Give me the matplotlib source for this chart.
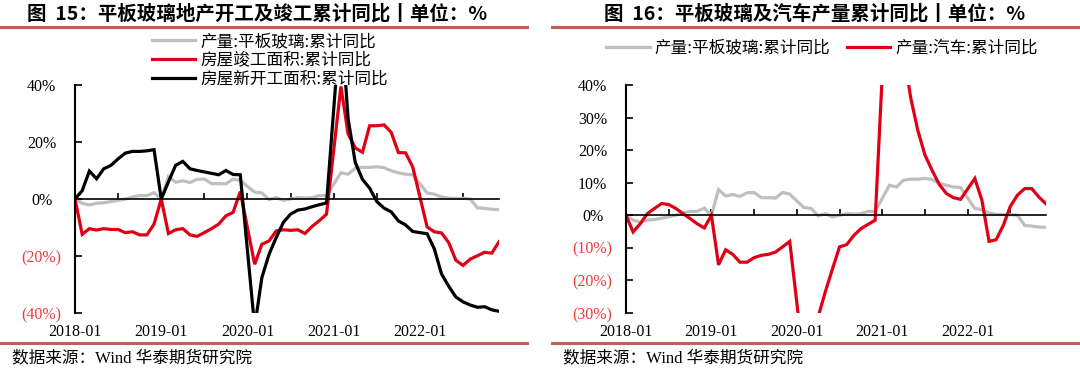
import numpy as np
import matplotlib
matplotlib.use("Agg")
import matplotlib.pyplot as plt
from matplotlib.lines import Line2D
from matplotlib.ticker import FuncFormatter

nan = np.nan

# monthly index, 2018-01 .. 2022-12 (January values mostly not published)
year_labels = ["2018-01", "2019-01", "2020-01", "2021-01", "2022-01"]

glass = [0, -1.5, -2.1, -1.5, -1.3, -0.9, -0.5, 0.0, 0.7, 1.2, 1.2, 2.2,
         0.0, 7.9, 5.9, 6.4, 5.8, 6.9, 7.0, 5.4, 5.4, 5.3, 7.0, 6.5,
         4.4, 2.4, 2.1, -0.2, 0.5, -0.5, 0.0, 0.5, 0.3, 0.5, 1.2, 1.2,
         nan, 9.2, 8.7, 10.8, 11.1, 11.1, 11.3, 11.0, 9.9, 9.2, 8.7, 8.5,
         nan, 2.1, 1.7, 0.7, 0.3, 0.2, 0.2, 0.0, -3.1, -3.3, -3.6, -3.7]

completed = [0, -12.4, -10.4, -10.9, -10.4, -10.7, -10.7, -11.8, -11.5, -12.6, -12.6, -8.8,
             0, -12.1, -10.8, -10.4, -12.6, -13.1, -11.8, -10.4, -8.8, -5.9, -4.7, 2.6,
             nan, -22.9, -15.9, -14.7, -11.2, -10.8, -11.0, -10.8, -12.1, -9.6, -7.6, -5.3,
             nan, 39.5, 22.9, 17.9, 16.4, 25.7, 25.7, 26.0, 23.4, 16.3, 16.2, 11.2,
             nan, -9.8, -11.5, -11.9, -15.3, -21.5, -23.3, -21.1, -19.9, -18.7, -19.0, -15.0]

new_starts = [0, 2.9, 9.8, 7.1, 10.6, 11.8, 14.1, 16.1, 16.7, 16.7, 16.9, 17.3,
              0, 6.0, 11.8, 13.2, 10.6, 10.0, 9.5, 9.0, 8.5, 10.0, 8.6, 8.5,
              nan, -44.9, -27.6, -19.4, -13.5, -8.2, -5.3, -3.9, -3.5, -2.7, -2.0, -1.4,
              nan, 64.3, 28.2, 12.8, 6.9, 3.8, -0.9, -3.2, -4.5, -7.7, -9.1, -11.4,
              nan, -12.2, -17.5, -26.3, -30.6, -34.4, -36.1, -37.2, -38.0, -37.8, -38.9, -39.4]

autos = [0, -5.1, -2.6, 0.5, 2.1, 3.6, 3.3, 2.1, 0.5, -1.0, -2.6, -3.9,
         0, -15.2, -10.6, -12.0, -14.4, -14.4, -13.0, -12.3, -12.0, -11.3, -9.7, -8.0,
         nan, -45.8, -45.2, -31.1, -23.5, -16.5, -9.7, -9.0, -6.2, -4.1, -2.8, -1.5,
         nan, 88.0, 82.0, 50.0, 36.0, 26.0, 18.5, 13.8, 9.5, 6.7, 5.4, 4.9,
         nan, 11.3, 4.6, -8.0, -7.5, -3.1, 2.8, 6.2, 8.2, 8.2, 5.6, 3.5]

CJK = ["Noto Sans CJK SC", "DejaVu Sans"]
SERIF = ["Liberation Serif", "Noto Sans CJK SC"]
RED = "#E00015"
GRAY = "#BFBFBF"
NEG = "#EE3B3B"
RULE = "#C0605E"
W, H = 1080, 370


def plot_series(ax, y, color, label):
    y = np.asarray(y, dtype=float)
    x = np.arange(len(y))
    ok = ~np.isnan(y)
    ax.plot(x[ok], y[ok], color=color, lw=2.3, label=label, solid_joinstyle="miter")


def pct(v, pos):
    if v < 0:
        return f"({abs(v):.0f}%)"
    return f"{v:.0f}%"


def style_axes(ax, ylim, ystep, n):
    ax.set_xlim(0, n - 1)
    ax.set_ylim(*ylim)
    ax.set_yticks(np.arange(ylim[0], ylim[1] + 1, ystep))
    ax.yaxis.set_major_formatter(FuncFormatter(pct))
    for s in ("top", "right"):
        ax.spines[s].set_visible(False)
    ax.spines["left"].set_linewidth(1.5)
    ax.spines["bottom"].set_position(("data", 0))
    ax.spines["bottom"].set_linewidth(1.2)
    ax.set_xticks(np.arange(0, n, 6))
    ax.tick_params(axis="x", direction="in", length=4, width=1.2, labelbottom=False)
    ax.tick_params(axis="y", direction="in", length=5, width=1.2, pad=24,
                   labelsize=11.5)
    for t in ax.get_yticklabels():
        t.set_fontfamily(SERIF)
        t.set_horizontalalignment("center")
        if t.get_text().startswith("("):
            t.set_color(NEG)
    sec = ax.secondary_xaxis("bottom")
    sec.set_xticks(np.arange(0, n, 12), labels=year_labels)
    sec.tick_params(length=0, pad=8, labelsize=11.5)
    sec.spines["bottom"].set_visible(False)
    for t in sec.get_xticklabels():
        t.set_fontfamily(SERIF)


fig = plt.figure(figsize=(W / 100, H / 100), dpi=100)

# left panel
ax1 = fig.add_axes([75 / W, 1 - 313 / H, (499 - 75) / W, (313 - 85) / H])
plot_series(ax1, glass, GRAY, "产量:平板玻璃:累计同比")
plot_series(ax1, completed, RED, "房屋竣工面积:累计同比")
plot_series(ax1, new_starts, "black", "房屋新开工面积:累计同比")
style_axes(ax1, (-40, 40), 20, len(glass))
leg1 = ax1.legend(loc="upper left", bbox_to_anchor=(152 / W, 1 - 33 / H),
                  bbox_transform=fig.transFigure, frameon=False, ncol=1,
                  prop={"family": CJK, "size": 12}, handlelength=2.6,
                  handletextpad=0.3, labelspacing=0.12, borderpad=0,
                  borderaxespad=0)
leg1.set_zorder(1)

# right panel
ax2 = fig.add_axes([626 / W, 1 - 313 / H, (1046 - 626) / W, (313 - 85) / H])
plot_series(ax2, glass, GRAY, "产量:平板玻璃:累计同比")
plot_series(ax2, autos, RED, "产量:汽车:累计同比")
style_axes(ax2, (-30, 40), 10, len(autos))
ax2.legend(loc="center", bbox_to_anchor=(822 / W, 1 - 48 / H),
           bbox_transform=fig.transFigure, frameon=False, ncol=2,
           prop={"family": CJK, "size": 12}, handlelength=2.6,
           handletextpad=0.3, columnspacing=1.0, borderpad=0, borderaxespad=0)

# titles, rules and source notes
fig.text(257 / W, 1 - 14 / H, "图  15：平板玻璃地产开工及竣工累计同比丨单位：%",
         ha="center", va="center", fontsize=14, fontweight="bold", family=CJK)
fig.text(815 / W, 1 - 14 / H, "图  16：平板玻璃及汽车产量累计同比丨单位：%",
         ha="center", va="center", fontsize=14, fontweight="bold", family=CJK)
for x0, x1 in ((0, 527), (552, 1080)):
    fig.add_artist(Line2D([x0 / W, x1 / W], [1 - 27 / H] * 2, color=RULE, lw=2.2))
    fig.add_artist(Line2D([x0 / W, x1 / W], [1 - 343 / H] * 2, color=RULE, lw=2.2))
fig.text(12 / W, 1 - 358 / H, "数据来源：Wind 华泰期货研究院", ha="left", va="center",
         fontsize=12, family=SERIF)
fig.text(563 / W, 1 - 358 / H, "数据来源：Wind 华泰期货研究院", ha="left", va="center",
         fontsize=12, family=SERIF)

fig.savefig("out.png", dpi=100)
